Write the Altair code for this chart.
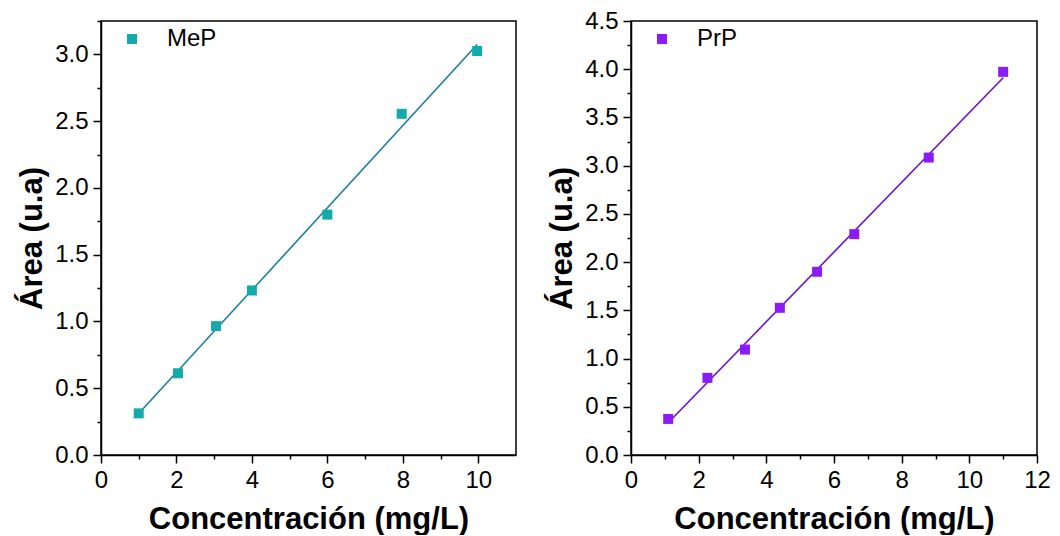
import altair as alt
import pandas as pd

# Panel 1: MeP
mep_x = [1.0, 2.04, 3.05, 4.0, 6.0, 7.97, 9.97]
mep_y = [0.312, 0.612, 0.965, 1.232, 1.80, 2.555, 3.025]
# Panel 2: PrP
prp_x = [1.1, 2.26, 3.37, 4.4, 5.5, 6.6, 8.8, 11.0]
prp_y = [0.374, 0.80, 1.093, 1.526, 1.90, 2.29, 3.084, 3.973]

x_title = "Concentración (mg/L)"
y_title = "Área (u.a)"
FONT = "Liberation Sans"


def panel(xs, ys, name, pt_color, line_color, xmax, xmajor, xminor, ymax, ymajor, yminor, w, h):
    df = pd.DataFrame({"x": xs, "y": ys, "s": [name] * len(xs)})
    xs_ = alt.Scale(domain=[0, xmax], nice=False, zero=False)
    ys_ = alt.Scale(domain=[0, ymax], nice=False, zero=False)
    base = alt.Chart(df)
    line = base.mark_line(color=line_color, strokeWidth=1.6, clip=True).transform_regression(
        "x", "y"
    ).encode(
        x=alt.X("x:Q", scale=xs_, axis=alt.Axis(values=xmajor, title=x_title, orient="bottom",
                                                 format="d", titlePadding=12, labelPadding=5,
                                                 labelFlush=False)),
        y=alt.Y("y:Q", scale=ys_, axis=alt.Axis(values=ymajor, title=y_title, orient="left",
                                                 format=".1f", titlePadding=6, labelPadding=5,
                                                 labelFlush=False)),
    )
    pts = base.mark_square(size=100, opacity=1).encode(
        x=alt.X("x:Q", scale=xs_, axis=alt.Axis(values=xminor, labels=False, title=None,
                                                 tickSize=4, domain=False, orient="bottom")),
        y=alt.Y("y:Q", scale=ys_, axis=alt.Axis(values=yminor, labels=False, title=None,
                                                 tickSize=4, domain=False, orient="left")),
        color=alt.Color("s:N", scale=alt.Scale(domain=[name], range=[pt_color]),
                        legend=alt.Legend(title=None, orient="none", legendX=19, legendY=6,
                                          symbolType="square", symbolSize=100,
                                          symbolStrokeWidth=0, labelFontSize=24,
                                          labelFont=FONT, labelOffset=23,
                                          labelColor="black")),
    )
    return alt.layer(line, pts).resolve_axis(x="independent", y="independent").properties(
        width=w, height=h
    )


left = panel(mep_x, mep_y, "MeP", "#12AAAA", "#1A7FA0", 11,
             [0, 2, 4, 6, 8, 10], [1, 3, 5, 7, 9], 3.25,
             [0, 0.5, 1.0, 1.5, 2.0, 2.5, 3.0], [0.25, 0.75, 1.25, 1.75, 2.25, 2.75, 3.25],
             415, 434)
right = panel(prp_x, prp_y, "PrP", "#8A1CF7", "#6A12CC", 12,
              [0, 2, 4, 6, 8, 10, 12], [1, 3, 5, 7, 9, 11], 4.5,
              [0, 0.5, 1.0, 1.5, 2.0, 2.5, 3.0, 3.5, 4.0, 4.5],
              [0.25, 0.75, 1.25, 1.75, 2.25, 2.75, 3.25, 3.75, 4.25],
              406, 434)

chart = alt.hconcat(left, right, spacing=28).resolve_scale(color="independent").properties(
    padding={"left": 15, "top": 8, "right": 5, "bottom": 0},
    background="white",
).configure_view(stroke="black", strokeWidth=1.5).configure_axis(
    labelFont=FONT, titleFont=FONT, labelFontSize=24, titleFontSize=31,
    titleFontWeight="bold", labelColor="black", titleColor="black",
    domainColor="black", tickColor="black", domainWidth=1.5, tickWidth=1.5,
    tickSize=8, grid=False,
)

chart.save("out.html", embed_options={"renderer": "svg", "actions": False})
